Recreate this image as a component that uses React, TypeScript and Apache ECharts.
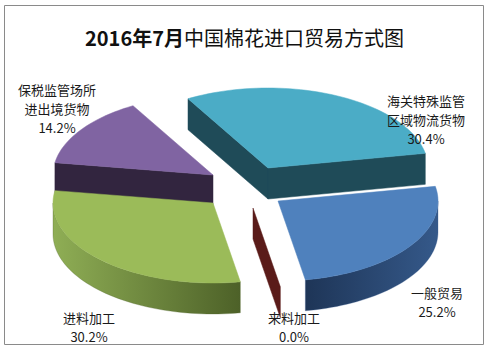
import React, { useEffect, useRef } from 'react';
import * as echarts from 'echarts';

const titleBold = '2016年7月';
const titleRest = '中国棉花进口贸易方式图';
const categories = ['海关特殊监管\n区域物流货物', '一般贸易', '来料加工', '进料加工', '保税监管场所\n进出境货物'];
const values = [30.4, 25.2, 0.0, 30.2, 14.2];

// styling / layout (not data)
const topColors = ['#4BACC6', '#4F81BD', '#C0504D', '#9BBB59', '#8064A2'];
const wallColors = [
  ['#1F4B58', '#1F4B58'],
  ['#1E3557', '#35598A'],
  ['#5A1B19', '#5A1B19'],
  ['#8FAE55', '#4D6128'],
  ['#32253F', '#32253F'],
];
const explode = [[55, -35], [65, -2], [40, 5], [0, 0], [0, -28]];
const labelPos = [[426, 119], [437, 302], [294, 327], [89, 327], [57, 108]];
const drawOrder = [0, 4, 3, 2, 1];

const CX = 213, CY = 203, RX = 160, RY = 80, H = 31, START = -30;

export default function App() {
  const ref = useRef<HTMLDivElement>(null);
  useEffect(() => {
    const chart = echarts.init(ref.current!, null, { renderer: 'svg' });
    const total = values.reduce((a, b) => a + b, 0);
    const starts: number[] = [];
    let acc = 0;
    values.forEach((v) => { starts.push(START + (acc / total) * 360); acc += v; });
    const rad = (d: number) => (d * Math.PI) / 180;
    const P = (deg: number, ox: number, oy: number, dz: number) => [
      CX + ox + RX * Math.sin(rad(deg)),
      CY + oy - RY * Math.cos(rad(deg)) + dz,
    ];
    const arc = (a: number, b: number, ox: number, oy: number, dz: number) => {
      const pts: number[][] = [];
      const n = Math.max(1, Math.ceil((b - a) / 2));
      for (let k = 0; k <= n; k++) pts.push(P(a + ((b - a) * k) / n, ox, oy, dz));
      return pts;
    };

    const renderItem = (params: any, api: any) => {
      const i = api.value(0);
      const v = api.value(1);
      const t1 = starts[i];
      const t2 = t1 + (v / total) * 360;
      const [ox, oy] = explode[i];
      const V = [CX + ox, CY + oy];
      const Vb = [V[0], V[1] + H];
      const children: any[] = [];
      const walls: any[] = [];
      const addWall = (deg: number, normal: number, force: boolean) => {
        const vis = -Math.cos(rad(normal));
        if (vis > 0.2 || force) {
          const R = P(deg, ox, oy, 0);
          const Rb = P(deg, ox, oy, H);
          walls.push({ y: (V[1] + R[1]) / 2, pts: [V, R, Rb, Vb] });
        }
      };
      const zero = v === 0;
      addWall(t1, t1 - 90, zero);
      if (!zero) addWall(t2, t2 + 90, false);
      walls.sort((a, b) => a.y - b.y);
      walls.forEach((w) => {
        children.push({
          type: 'polygon',
          shape: { points: w.pts },
          style: { fill: wallColors[i][0], stroke: wallColors[i][0], lineWidth: 0.5 },
        });
      });
      const a = Math.max(t1, 90), b = Math.min(t2, 270);
      if (b > a) {
        const pts = arc(a, b, ox, oy, 0).concat(arc(a, b, ox, oy, H).reverse());
        children.push({
          type: 'polygon',
          shape: { points: pts },
          style: {
            fill: new echarts.graphic.LinearGradient(0, 0, 1, 0, [
              { offset: 0, color: wallColors[i][0] },
              { offset: 1, color: wallColors[i][1] },
            ]),
            stroke: wallColors[i][1], lineWidth: 0.3,
          },
        });
      }
      if (!zero) {
        children.push({
          type: 'polygon',
          shape: { points: [V].concat(arc(t1, t2, ox, oy, 0)) },
          style: { fill: topColors[i], stroke: topColors[i], lineWidth: 0.5 },
        });
      }
      children.push({
        type: 'text',
        x: labelPos[i][0],
        y: labelPos[i][1],
        z2: 100,
        style: {
          text: categories[i] + '\n' + v.toFixed(1) + '%',
          fill: '#1a1a1a',
          fontSize: 13,
          fontFamily: '"Noto Sans CJK SC", sans-serif',
          align: 'center',
          verticalAlign: 'middle',
          lineHeight: 19,
        },
      });
      return { type: 'group', children };
    };

    chart.setOption({
      animation: false,
      backgroundColor: '#ffffff',
      title: {
        text: '{b|' + titleBold + '}{n|' + titleRest + '}',
        left: 'center',
        top: 22,
        textStyle: {
          rich: {
            b: { fontSize: 20, fontWeight: 'bold', fontFamily: '"Noto Sans CJK SC", sans-serif', color: '#111' },
            n: { fontSize: 20, fontWeight: 'normal', fontFamily: '"Noto Sans CJK SC", sans-serif', color: '#111' },
          },
        },
      },
      graphic: [
        {
          type: 'rect',
          shape: { x: 4.5, y: 5.5, width: 479, height: 339 },
          style: { fill: 'none', stroke: '#8a8a8a', lineWidth: 1 },
          silent: true,
        },
      ],
      series: [
        {
          type: 'custom',
          coordinateSystem: 'none',
          renderItem,
          data: drawOrder.map((i) => ({ name: categories[i], value: [i, values[i]] })),
        },
      ],
    });
    return () => chart.dispose();
  }, []);
  return <div ref={ref} style={{ position: 'absolute', left: 0, top: 0, width: 489, height: 352 }} />;
}
